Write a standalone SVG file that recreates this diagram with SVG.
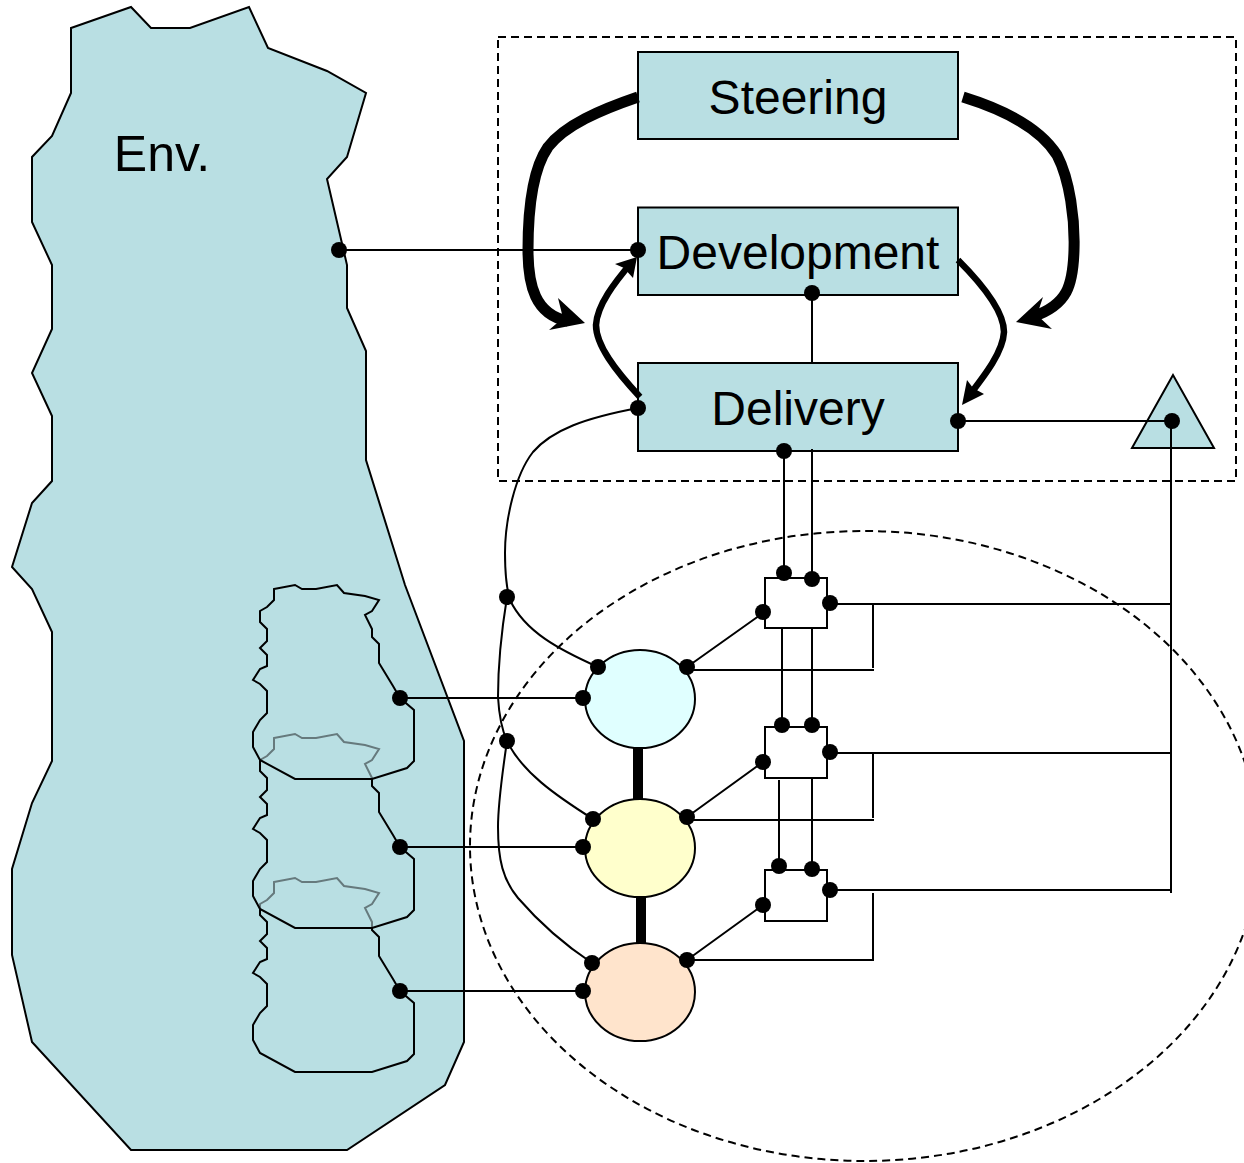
<svg xmlns="http://www.w3.org/2000/svg" width="1244" height="1163" viewBox="0 0 1244 1163">
<style>
.t{font-family:"Liberation Sans",Arial,sans-serif;font-size:48px;fill:#000;text-anchor:middle}
.n{fill:#b9dfe3;stroke:#000;stroke-width:2}
.c{fill:none;stroke:#000;stroke-width:2}
.d{fill:none;stroke:#000;stroke-width:2;stroke-dasharray:8 5}
.b{fill:#b9dfe3;fill-opacity:.55;stroke:#000;stroke-width:2}
.s{fill:#fff;stroke:#000;stroke-width:2}
.e{stroke:#000;stroke-width:2}
.k{fill:none;stroke:#000}
.h{fill:#000}
</style>
<defs>
<path id="blob" d="M274,589L295,585L302,589L316,589L337,585L344,593L365,596L379,600L372,611L365,615L372,629L372,637L379,644L379,663L393,686L400,698L414,710L414,761L407,768L372,779L295,779L260,760L253,747L253,732L260,720L267,713L267,691L260,684L253,680L260,669L267,666L267,655L260,648L267,641L267,629L260,622L260,611L267,607L274,600Z"/>
<circle id="p" r="8" fill="#000"/>
</defs>
<g id="env"><polygon class="n" points="71,28 131,7 151,28 190,28 249,7 268,48 327,71 366,93 347,157 327,179 347,265 347,308 366,351 366,460 405,585 464,741 464,1042 445,1085 347,1150 131,1150 32,1042 12,955 12,869 32,803 52,761 52,632 32,589 12,567 32,503 52,481 52,416 32,373 52,329 52,265 32,222 32,157 52,136 71,93"/><text class="t" x="162" y="171" style="font-size:50px">Env.</text></g>
<g id="region3"><use href="#blob" class="b" y="293"/></g>
<g id="region2"><use href="#blob" class="b" y="149"/></g>
<g id="region1"><use href="#blob" class="b"/></g>
<g id="frame-top"><rect class="d" x="498" y="37" width="738" height="444"/></g>
<g id="frame-ellipse"><ellipse class="d" cx="864.5" cy="846" rx="394.5" ry="315"/></g>
<g id="steering"><rect class="n" x="638" y="52" width="320" height="87"/><text class="t" x="798" y="114">Steering</text></g>
<g id="development"><rect class="n" x="638" y="207.500" width="320" height="87.500"/><text class="t" x="798" y="269">Development</text></g>
<g id="delivery"><rect class="n" x="638" y="363" width="320" height="88"/><text class="t" x="798" y="425">Delivery</text></g>
<g id="triangle"><polygon class="n" points="1173,375 1132,448 1214,448"/></g>
<g id="connectors">
<path class="c" d="M339,250H639M812,293V363M958,421H1172M1171,421V893M784,451V573M812,449V579M782,628V725M812,628V725M779,780V866M812,778V869"/>
<path class="c" d="M830,604H1170M873,604V668M687,670H874M830,753H1170M873,753V818M687,820H874M830,890H1170M873,893V960M687,960H874"/>
<path class="c" d="M687,667L763,613M687,817L763,762M687,960L763,905M400,698H583M400,847H583M400,991H583"/>
<path class="c" d="M638,408C585,418 552,430 533,452C515,475 505,520 505,553C505,575 507,590 510,600C525,632 560,650 598,667"/>
<path class="c" d="M507,597C500,640 498,670 498,697C499,715 502,730 507,741"/>
<path class="c" d="M507,741C522,772 555,795 593,819"/>
<path class="c" d="M507,741C502,775 498,805 498,827C498,860 503,880 518,898C537,920 565,945 592,963"/>
<path class="k" stroke-width="10" d="M638,748V799M641,897V943"/>
<path class="k" stroke-width="11" d="M638,97C600,110 565,125 548,147C532,170 528,210 528,250C528,285 535,315 568,321"/>
<path class="h" d="M585,323L558,298L563,318L549,330Z"/>
<path class="k" stroke-width="11" d="M963,97C1005,110 1040,128 1057,155C1070,180 1075,220 1074,250C1073,285 1068,305 1032,317"/>
<path class="h" d="M1016,322L1043,297L1037,315L1052,329Z"/>
<path class="k" stroke-width="6.500" d="M640,397C615,370 596,345 596,325C597,305 615,282 632,262"/>
<path class="h" d="M637,257L615,264L624,268L633,278Z"/>
<path class="k" stroke-width="6.500" d="M958,260C985,287 1004,312 1004,332C1003,352 985,375 968,397"/>
<path class="h" d="M962,405L967,380L973,388L984,394Z"/>
</g>
<g id="circle-a"><ellipse class="e" cx="640" cy="699" rx="55" ry="49" fill="#e0ffff"/></g>
<g id="circle-b"><ellipse class="e" cx="640" cy="848" rx="55" ry="49" fill="#ffffcc"/></g>
<g id="circle-c"><ellipse class="e" cx="640" cy="992" rx="55" ry="49" fill="#ffe4cc"/></g>
<g id="box-a"><rect class="s" x="765" y="578" width="62" height="50"/></g>
<g id="box-b"><rect class="s" x="765" y="727" width="62" height="51"/></g>
<g id="box-c"><rect class="s" x="765" y="870" width="62" height="51"/></g>
<g id="dots">
<use href="#p" x="339" y="250"/><use href="#p" x="638" y="250"/><use href="#p" x="812" y="293"/><use href="#p" x="638" y="408"/><use href="#p" x="958" y="421"/><use href="#p" x="784" y="451"/><use href="#p" x="1172" y="421"/>
<use href="#p" x="784" y="573"/><use href="#p" x="812" y="579"/><use href="#p" x="830" y="603"/><use href="#p" x="763" y="612"/><use href="#p" x="782" y="725"/><use href="#p" x="812" y="725"/><use href="#p" x="830" y="752"/><use href="#p" x="763" y="762"/><use href="#p" x="779" y="866"/><use href="#p" x="812" y="869"/><use href="#p" x="830" y="890"/><use href="#p" x="763" y="905"/>
<use href="#p" x="507" y="597"/><use href="#p" x="507" y="741"/><use href="#p" x="598" y="667"/><use href="#p" x="687" y="667"/><use href="#p" x="583" y="698"/><use href="#p" x="400" y="698"/><use href="#p" x="593" y="819"/><use href="#p" x="687" y="817"/><use href="#p" x="583" y="847"/><use href="#p" x="400" y="847"/><use href="#p" x="592" y="963"/><use href="#p" x="687" y="960"/><use href="#p" x="583" y="991"/><use href="#p" x="400" y="991"/>
</g>
</svg>
